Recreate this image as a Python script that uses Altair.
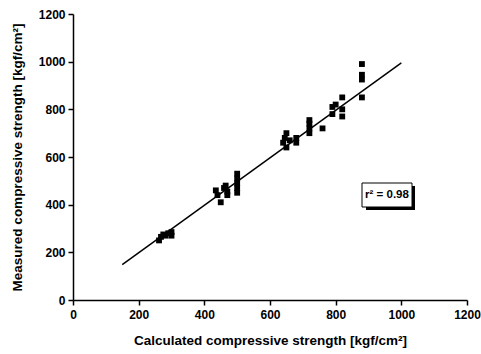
import altair as alt
import pandas as pd

calc = [262, 268, 275, 282, 290, 300, 300,
        435, 440, 450, 460, 465, 470, 470, 500, 500, 500, 500, 500,
        640, 645, 650, 650, 660, 680, 680,
        720, 720, 720, 720, 760, 790, 790, 800, 820, 820, 820,
        880, 880, 880, 880]
meas = [250, 265, 275, 270, 280, 285, 270,
        460, 440, 410, 470, 480, 455, 440, 530, 510, 490, 470, 450,
        660, 680, 700, 640, 670, 660, 680,
        700, 720, 740, 755, 720, 780, 810, 820, 850, 770, 800,
        990, 945, 925, 850]

fit_x = [150, 1000]
fit_y = [148, 995]

pts = pd.DataFrame({"calc": calc, "meas": meas})
fit = pd.DataFrame({"calc": fit_x, "meas": fit_y})

FONT = "Liberation Sans"

xscale = alt.Scale(domain=[0, 1200], nice=False, zero=False)
yscale = alt.Scale(domain=[0, 1200], nice=False, zero=False)

common = dict(
    values=list(range(0, 1201, 100)),
    format="d",
    labelExpr="datum.value % 200 === 0 ? datum.label : ''",
    tickSize=alt.expr("datum.value % 200 === 0 ? 5 : 3"),
    grid=False, domainColor="black", tickColor="black", tickWidth=1.5,
    domainWidth=1.5, labelFont=FONT, labelFontWeight="bold", labelFontSize=12,
    labelColor="black", labelFlush=False, labelOverlap=False,
    titleFont=FONT, titleFontWeight="bold", titleFontSize=13.5, titleColor="black",
)
xaxis = alt.Axis(title="Calculated compressive strength [kgf/cm²]",
                 labelPadding=4, titlePadding=13, **common)
yaxis = alt.Axis(title="Measured compressive strength [kgf/cm²]",
                 labelPadding=3, titlePadding=14, **common)

points = alt.Chart(pts).mark_square(size=34, color="black", opacity=1).encode(
    x=alt.X("calc:Q", scale=xscale, axis=xaxis),
    y=alt.Y("meas:Q", scale=yscale, axis=yaxis),
)

line = alt.Chart(fit).mark_line(color="black", strokeWidth=1.5).encode(
    x=alt.X("calc:Q", scale=xscale),
    y=alt.Y("meas:Q", scale=yscale),
)

shadow = alt.Chart(pd.DataFrame({"a": [0]})).mark_rect(color="black").encode(
    x=alt.value(293), x2=alt.value(342), y=alt.value(172), y2=alt.value(196)
)
box = alt.Chart(pd.DataFrame({"a": [0]})).mark_rect(
    fill="white", stroke="black", strokeWidth=1
).encode(
    x=alt.value(289), x2=alt.value(339), y=alt.value(169), y2=alt.value(193)
)
label = alt.Chart(pd.DataFrame({"a": [0]})).mark_text(
    text="r² = 0.98", font=FONT, fontWeight="bold", fontSize=11.5, color="black",
    align="center", baseline="middle"
).encode(x=alt.value(314), y=alt.value(181))

chart = alt.layer(line, points, shadow, box, label).properties(
    width=394, height=286,
    autosize=alt.AutoSizeParams(type="none"),
    padding={"left": 73, "top": 14, "right": 14, "bottom": 54},
).configure(
    background="white",
    view=alt.ViewConfig(strokeWidth=0, stroke="transparent"),
)

chart.save("out.html", embed_options={"renderer": "svg", "actions": False})
